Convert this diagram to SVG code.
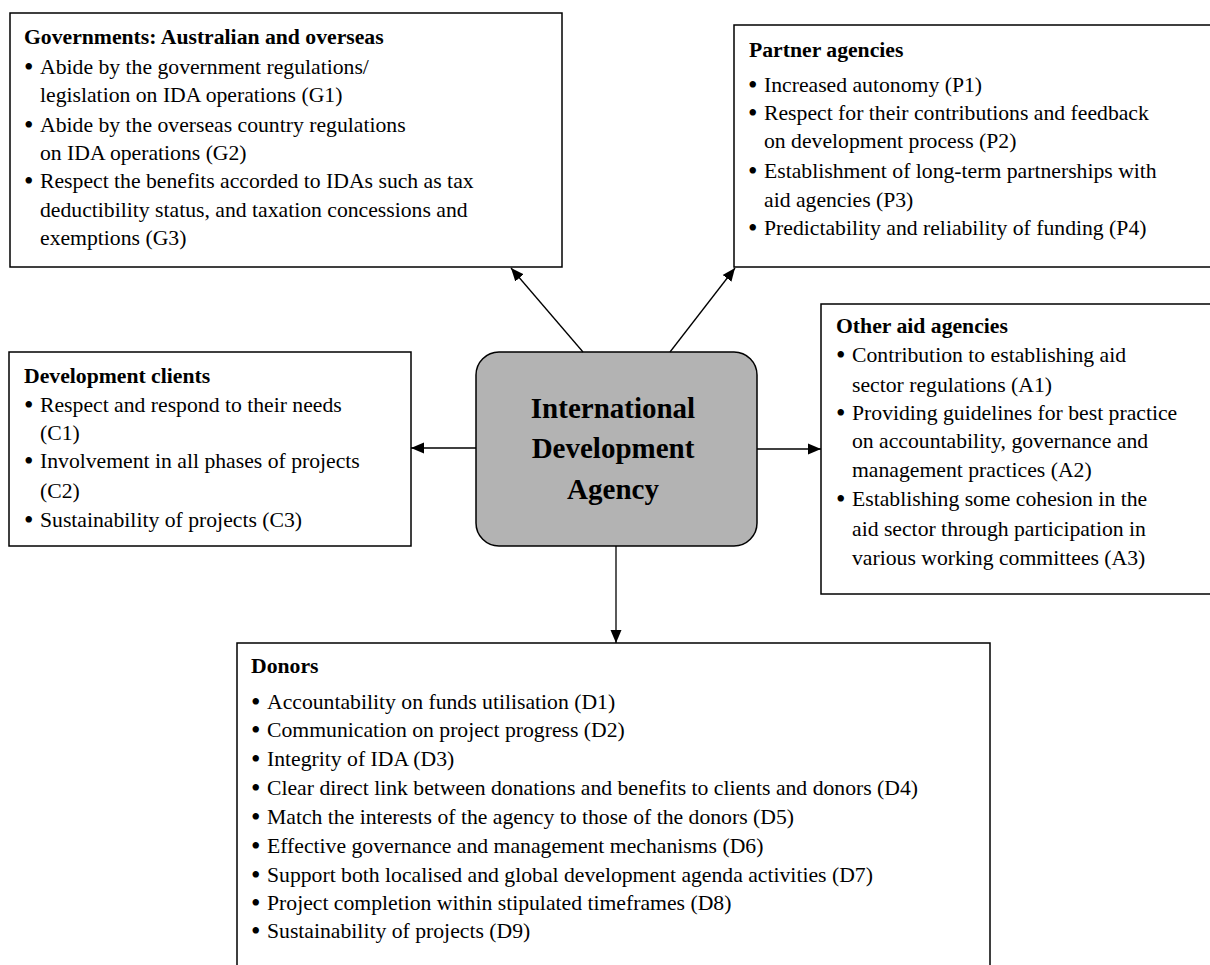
<svg xmlns="http://www.w3.org/2000/svg" width="1210" height="965" viewBox="0 0 1210 965">
<style>
.t{font-family:"Liberation Serif","Times New Roman",serif;font-size:21.7px;fill:#000}
.b{font-family:"Liberation Serif","Times New Roman",serif;font-size:27px;fill:#000}
.h{font-weight:bold}
.c{font-family:"Liberation Serif","Times New Roman",serif;font-size:29px;font-weight:bold;fill:#000;text-anchor:middle}
.box{fill:#fff;stroke:#000;stroke-width:1.5}
.conn line{stroke:#000;stroke-width:1.3;marker-end:url(#ah)}
</style>
<defs>
<marker id="ah" markerUnits="userSpaceOnUse" markerWidth="14" markerHeight="12" refX="13" refY="6" orient="auto">
<path d="M0,0.5 L13,6 L0,11.5 z" fill="#000"/>
</marker>
</defs>
<rect width="1210" height="965" fill="#fff"/>

<g id="gov">
<rect class="box" x="10" y="13" width="552" height="254"/>
<text class="t h" x="24" y="44">Governments: Australian and overseas</text>
<text class="b" x="24" y="76">•</text><text class="t" x="40" y="74">Abide by the government regulations/</text>
<text class="t" x="40" y="102">legislation on IDA operations (G1)</text>
<text class="b" x="24" y="134">•</text><text class="t" x="40" y="132">Abide by the overseas country regulations</text>
<text class="t" x="40" y="160">on IDA operations (G2)</text>
<text class="b" x="24" y="190">•</text><text class="t" x="40" y="188">Respect the benefits accorded to IDAs such as tax</text>
<text class="t" x="40" y="217">deductibility status, and taxation concessions and</text>
<text class="t" x="40" y="245">exemptions (G3)</text>
</g>

<g id="partner">
<rect class="box" x="734" y="25" width="480" height="242"/>
<text class="t h" x="749" y="57">Partner agencies</text>
<text class="b" x="748" y="94">•</text><text class="t" x="764" y="92">Increased autonomy (P1)</text>
<text class="b" x="748" y="122">•</text><text class="t" x="764" y="120">Respect for their contributions and feedback</text>
<text class="t" x="764" y="148">on development process (P2)</text>
<text class="b" x="748" y="180">•</text><text class="t" x="764" y="178">Establishment of long-term partnerships with</text>
<text class="t" x="764" y="207">aid agencies (P3)</text>
<text class="b" x="748" y="237">•</text><text class="t" x="764" y="235">Predictability and reliability of funding (P4)</text>
</g>

<g id="clients">
<rect class="box" x="9" y="352" width="402" height="194"/>
<text class="t h" x="24" y="383">Development clients</text>
<text class="b" x="24" y="414">•</text><text class="t" x="40" y="412">Respect and respond to their needs</text>
<text class="t" x="40" y="440">(C1)</text>
<text class="b" x="24" y="470">•</text><text class="t" x="40" y="468">Involvement in all phases of projects</text>
<text class="t" x="40" y="498">(C2)</text>
<text class="b" x="24" y="529">•</text><text class="t" x="40" y="527">Sustainability of projects (C3)</text>
</g>

<g id="ida">
<rect x="476" y="352" width="281" height="194" rx="23" ry="23" fill="#b3b3b3" stroke="#000" stroke-width="1.5"/>
<text class="c" x="613" y="418">International</text>
<text class="c" x="613" y="458">Development</text>
<text class="c" x="613" y="499">Agency</text>
</g>

<g id="other">
<rect class="box" x="821" y="304" width="393" height="290"/>
<text class="t h" x="836" y="333">Other aid agencies</text>
<text class="b" x="836" y="364">•</text><text class="t" x="852" y="362">Contribution to establishing aid</text>
<text class="t" x="852" y="392">sector regulations (A1)</text>
<text class="b" x="836" y="422">•</text><text class="t" x="852" y="420">Providing guidelines for best practice</text>
<text class="t" x="852" y="448">on accountability, governance and</text>
<text class="t" x="852" y="477">management practices (A2)</text>
<text class="b" x="836" y="508">•</text><text class="t" x="852" y="506">Establishing some cohesion in the</text>
<text class="t" x="852" y="536">aid sector through participation in</text>
<text class="t" x="852" y="565">various working committees (A3)</text>
</g>

<g id="donors">
<rect class="box" x="237" y="643" width="753" height="330"/>
<text class="t h" x="251" y="673">Donors</text>
<text class="b" x="251" y="711">•</text><text class="t" x="267" y="709">Accountability on funds utilisation (D1)</text>
<text class="b" x="251" y="739">•</text><text class="t" x="267" y="737">Communication on project progress (D2)</text>
<text class="b" x="251" y="768">•</text><text class="t" x="267" y="766">Integrity of IDA (D3)</text>
<text class="b" x="251" y="797">•</text><text class="t" x="267" y="795">Clear direct link between donations and benefits to clients and donors (D4)</text>
<text class="b" x="251" y="826">•</text><text class="t" x="267" y="824">Match the interests of the agency to those of the donors (D5)</text>
<text class="b" x="251" y="855">•</text><text class="t" x="267" y="853">Effective governance and management mechanisms (D6)</text>
<text class="b" x="251" y="884">•</text><text class="t" x="267" y="882">Support both localised and global development agenda activities (D7)</text>
<text class="b" x="251" y="912">•</text><text class="t" x="267" y="910">Project completion within stipulated timeframes (D8)</text>
<text class="b" x="251" y="940">•</text><text class="t" x="267" y="938">Sustainability of projects (D9)</text>
</g>

<g id="connectors" class="conn">
<line x1="583" y1="352" x2="511" y2="268"/>
<line x1="670" y1="352" x2="735" y2="268"/>
<line x1="476" y1="448" x2="411" y2="448"/>
<line x1="757" y1="449" x2="821" y2="449"/>
<line x1="616" y1="546" x2="616" y2="643"/>
</g>
</svg>
